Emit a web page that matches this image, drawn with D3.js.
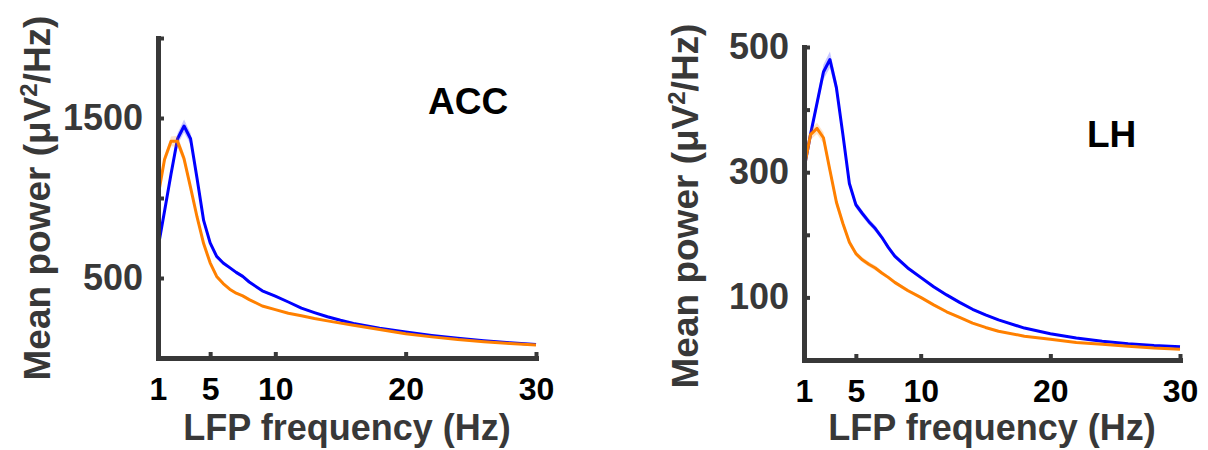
<!DOCTYPE html>
<html>
<head>
<meta charset="utf-8">
<script src="https://cdn.jsdelivr.net/npm/d3@7"></script>
<style>
  body { margin: 0; background: #fff; }
  svg { font-family: "Liberation Sans", Arial, sans-serif; font-weight: bold; }
</style>
</head>
<body>
<svg id="chart" width="1208" height="450"></svg>
<script>
// frequency bins (Hz)
var freqs = [1, 1.5, 2, 2.5, 3, 3.5, 4, 4.5, 5, 5.5, 6, 6.5, 7, 7.5, 8,
             9, 10, 11, 12, 13, 14, 15, 16, 18, 20, 22, 24, 26, 28, 30];

// ACC mean power
var accBlue   = [688, 917, 1150, 1370, 1450, 1370, 1120, 860, 720, 635, 594, 565, 535, 510, 475,
                 420, 386, 350, 312, 284, 258, 236, 216, 186, 162, 141, 123, 108, 95, 84];
var accBlueSem = [15, 20, 25, 35, 40, 35, 25, 18, 15, 12, 12, 11, 10, 10, 9,
                  8, 7, 6, 6, 5, 5, 5, 4, 4, 3, 3, 3, 3, 2, 2];
var accOrange = [1010, 1240, 1354, 1354, 1245, 1065, 880, 715, 595, 510, 465, 430, 405, 388, 365,
                 325, 302, 280, 264, 247, 232, 218, 205, 178, 152, 132, 115, 102, 91, 82];
var accOrangeSem = [20, 25, 30, 35, 30, 25, 20, 15, 12, 10, 9, 8, 8, 7, 7,
                    6, 5, 5, 4, 4, 4, 4, 3, 3, 3, 3, 2, 2, 2, 2];

// LH mean power
var lhBlue   = [305, 360, 410, 460, 480, 435, 360, 282, 248, 234, 221, 210, 196, 180, 166,
                147, 132, 117, 104, 92, 81, 72, 64, 51, 42, 35, 30, 26, 23, 21];
var lhBlueSem = [5, 7, 9, 12, 13, 11, 8, 6, 5, 5, 5, 5, 4, 4, 4,
                 3, 3, 3, 2, 2, 2, 2, 1.5, 1.5, 1, 1, 1, 1, 1, 1];
var lhOrange = [305, 360, 370, 355, 303, 252, 218, 188, 170, 160, 153, 147, 139, 132, 124,
                111, 100, 88, 77, 68, 59, 52, 46, 38, 33, 28, 25, 22, 19, 17];
var lhOrangeSem = [5, 8, 9, 9, 8, 7, 6, 5, 4, 4, 4, 4, 3, 3, 3,
                   3, 2, 2, 2, 2, 1.5, 1.5, 1, 1, 1, 1, 1, 1, 1, 1];

var xTicks = [1, 5, 10, 20, 30];
var accYTicks = [500, 1000, 1500, 2000];
var accYLabels = [500, 1500];
var lhYTicks = [100, 200, 300, 400, 500];
var lhYLabels = [100, 300, 500];

var blue = "#0000ff", orange = "#ff8000", axisCol = "#383838";

var svg = d3.select("#chart");

function drawPanel(p) {
    var x = d3.scaleLinear().domain([1, 30]).range([p.left, p.right]);
    var y = d3.scaleLinear().domain([0, p.yMax]).range([p.bottom, p.top]);

    var g = svg.append("g");

    // error bands + mean lines
    p.series.forEach(function (s) {
        var rows = freqs.map(function (f, i) { return { f: f, v: s.values[i], e: s.sem[i] }; });
        g.append("path")
            .datum(rows)
            .attr("fill", s.color)
            .attr("fill-opacity", 0.22)
            .attr("d", d3.area()
                .x(function (d) { return x(d.f); })
                .y0(function (d) { return y(d.v - d.e); })
                .y1(function (d) { return y(d.v + d.e); }));
        g.append("path")
            .datum(rows)
            .attr("fill", "none")
            .attr("stroke", s.color)
            .attr("stroke-width", 3)
            .attr("stroke-linejoin", "round")
            .attr("d", d3.line()
                .x(function (d) { return x(d.f); })
                .y(function (d) { return y(d.v); }));
    });

    // y axis
    var yAx = g.append("g")
        .attr("transform", "translate(" + p.left + ",0)")
        .call(d3.axisLeft(y)
            .tickValues(p.yTicks)
            .tickSizeInner(-6)
            .tickSizeOuter(0)
            .tickPadding(15)
            .tickFormat(function (d) { return p.yLabels.indexOf(d) >= 0 ? d : ""; }));

    // x axis
    var xAx = g.append("g")
        .attr("transform", "translate(0," + p.bottom + ")")
        .call(d3.axisBottom(x)
            .tickValues(xTicks)
            .tickSizeInner(-6)
            .tickSizeOuter(0)
            .tickPadding(19));

    [yAx, xAx].forEach(function (ax) {
        ax.select(".domain")
            .attr("stroke", axisCol)
            .attr("stroke-width", 5)
            .attr("stroke-linecap", "square");
        ax.selectAll(".tick line")
            .attr("stroke", axisCol)
            .attr("stroke-width", 4);
        ax.selectAll("text")
            .style("font-family", "'Liberation Sans', Arial, sans-serif")
            .style("font-weight", "bold");
    });

    yAx.selectAll("text")
        .style("font-size", "36px")
        .attr("fill", axisCol);
    xAx.selectAll("text")
        .style("font-size", "32px")
        .attr("fill", "#000");

    // x title
    g.append("text")
        .attr("x", (p.left + p.right) / 2)
        .attr("y", 440)
        .attr("text-anchor", "middle")
        .attr("fill", axisCol)
        .style("font-size", "36px")
        .text("LFP frequency (Hz)");

    // y title
    var yt = g.append("text")
        .attr("transform", "translate(" + p.yTitleX + "," + p.yTitleY + ")rotate(-90)")
        .attr("text-anchor", "middle")
        .attr("fill", axisCol)
        .style("font-size", "37px");
    yt.append("tspan").text("Mean power (\u03bcV");
    yt.append("tspan").attr("dy", -13).style("font-size", "24px").text("2");
    yt.append("tspan").attr("dy", 13).text("/Hz)");

    // region label
    g.append("text")
        .attr("x", p.nameX)
        .attr("y", p.nameY)
        .attr("fill", "#000")
        .style("font-size", "37px")
        .text(p.name);
}

drawPanel({
    name: "ACC", nameX: 428, nameY: 114,
    left: 158, right: 536, top: 38, bottom: 358,
    yMax: 2000, yTicks: accYTicks, yLabels: accYLabels,
    yTitleX: 50, yTitleY: 198,
    series: [
        { values: accBlue, sem: accBlueSem, color: blue },
        { values: accOrange, sem: accOrangeSem, color: orange }
    ]
});

drawPanel({
    name: "LH", nameX: 1087, nameY: 147,
    left: 804, right: 1180, top: 47, bottom: 360,
    yMax: 500, yTicks: lhYTicks, yLabels: lhYLabels,
    yTitleX: 698, yTitleY: 206,
    series: [
        { values: lhBlue, sem: lhBlueSem, color: blue },
        { values: lhOrange, sem: lhOrangeSem, color: orange }
    ]
});
</script>
</body>
</html>
